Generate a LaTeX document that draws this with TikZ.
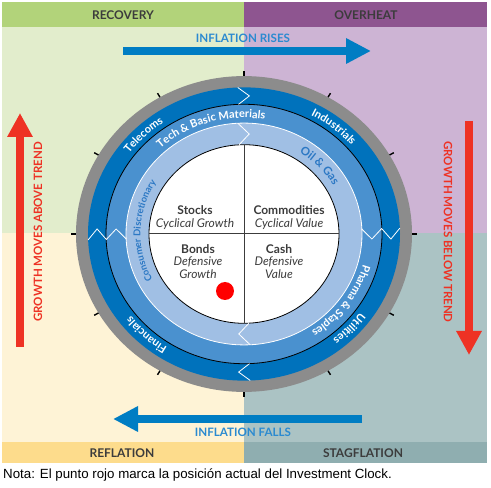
\documentclass[tikz,border=0pt]{standalone}
\usepackage{fontspec}
\setmainfont{Lato}
\newfontfamily\notefont{Liberation Sans}
\usetikzlibrary{positioning,calc,arrows.meta,decorations.text}
\definecolor{bandgreen}{RGB}{178,211,122}
\definecolor{lightgreen}{RGB}{226,237,204}
\definecolor{bandpurple}{RGB}{142,85,144}
\definecolor{lightpurple}{RGB}{205,180,212}
\definecolor{bandyellow}{RGB}{253,220,140}
\definecolor{lightyellow}{RGB}{254,243,214}
\definecolor{bandteal}{RGB}{143,174,176}
\definecolor{lightteal}{RGB}{171,195,196}
\definecolor{ringgray}{RGB}{140,140,140}
\definecolor{darkring}{RGB}{0,114,188}
\definecolor{midring}{RGB}{74,145,207}
\definecolor{lightring}{RGB}{160,191,228}
\definecolor{arrowblue}{RGB}{0,125,195}
\definecolor{textblue}{RGB}{43,138,208}
\definecolor{ringtext}{RGB}{44,120,196}
\definecolor{growthred}{RGB}{238,50,36}
\definecolor{labelgray}{RGB}{60,60,60}

\newcommand{\ringlabel}[6]{%
  \pgfmathsetmacro\ry{0.94*#1}%
  \path[decorate,decoration={text along path,text align=center,text color=#5,
    text={|\bfseries\fontsize{#6}{#6}\selectfont|#4}}]
    (#2:#1 and \ry) arc[start angle=#2,end angle=#3,x radius=#1,y radius=\ry];}

\tikzset{
  band/.style={font=\bfseries\fontsize{12}{12}\selectfont, text=labelgray},
  flowlabel/.style={font=\bfseries\fontsize{11.6}{11.6}\selectfont, text=textblue},
  growthlabel/.style={font=\bfseries\fontsize{11.5}{11.5}\selectfont, text=growthred},
  bluearrow/.style={draw=arrowblue, line width=8pt, -{Triangle[length=25pt,width=24pt]}},
  redarrow/.style={draw=growthred, line width=8pt, -{Triangle[length=24pt,width=24pt]}},
  asset/.style={align=center, font=\fontsize{12}{12.5}\selectfont, text=labelgray, inner sep=0pt},
  chev/.style={draw=white, line width=0.8pt},
  tick/.style={draw=black, line width=1.4pt}
}

\begin{document}
\begin{tikzpicture}[x=1pt,y=1pt]
\useasboundingbox (0,0) rectangle (491,488);
\fill[white] (0,0) rectangle (491,488);

\fill[lightgreen] (2,255) rectangle (244,461);
\fill[lightpurple] (244,255) rectangle (487,461);
\fill[lightyellow] (2,46) rectangle (244,255);
\fill[lightteal] (244,46) rectangle (487,255);
\fill[bandgreen] (2,461) rectangle (244,486);
\fill[bandpurple] (244,461) rectangle (487,486);
\fill[bandyellow] (2,25) rectangle (244,46);
\fill[bandteal] (244,25) rectangle (487,46);

\node[band] (recovery) at (123,473) {RECOVERY};
\node[band] (overheat) at (366,473) {OVERHEAT};
\node[band] (reflation) at (122,35) {REFLATION};
\node[band] (stagflation) at (363,35) {STAGFLATION};

\node[flowlabel] (rises) at (243,450) {INFLATION RISES};
\coordinate (risefrom) at (123,437);
\coordinate (riseto) at (371,437);
\draw[bluearrow] (risefrom) -- (riseto);

\node[flowlabel] (falls) at (243,56) {INFLATION FALLS};
\coordinate (fallfrom) at (362,69);
\coordinate (fallto) at (113,69);
\draw[bluearrow] (fallfrom) -- (fallto);

\coordinate (abovefrom) at (20,141);
\coordinate (aboveto) at (20,375);
\draw[redarrow] (abovefrom) -- (aboveto);
\node[growthlabel, rotate=90] (above) at (38,256) {GROWTH MOVES ABOVE TREND};

\coordinate (belowfrom) at (469,367);
\coordinate (belowto) at (469,133);
\draw[redarrow] (belowfrom) -- (belowto);
\node[growthlabel, rotate=-90] (below) at (448,256) {GROWTH MOVES BELOW TREND};

\begin{scope}[shift={(244,254)}, yscale=0.94]
  \foreach \a in {0,30,...,330}
    \draw[tick] (\a:167) -- (\a:173);
  \fill[ringgray] (0,0) circle (168);
  \fill[darkring] (0,0) circle (156);
  \fill[midring] (0,0) circle (138);
  \draw[black, line width=0.8pt] (0,0) circle (138);
  \fill[lightring] (0,0) circle (118);
  \draw[white, line width=0.8pt] (0,0) circle (118);
  \fill[white] (0,0) circle (95);
  \draw[black, line width=0.8pt] (0,0) circle (95);
  \draw[labelgray, line width=0.8pt] (0,95) -- (0,-95);
  \draw[labelgray, line width=0.8pt] (-95,1) -- (95,1);
  \foreach \a in {90,0,270,180}
    \draw[chev] (\a+2.3:156) -- (\a-2.1:147) -- (\a+2.3:138);
  \foreach \a in {0,180}
    \draw[chev] (\a+2.5:138) -- (\a-2.4:128) -- (\a+2.5:118);
  \foreach \a in {90,270}
    \draw[chev] (\a+3:118) -- (\a-2.8:106.5) -- (\a+3:95);
\end{scope}

\begin{scope}[shift={(244,254)}]
  \ringlabel{143}{175}{94}{Telecoms}{white}{11}
  \ringlabel{143}{91}{11}{Industrials}{white}{11}
  \ringlabel{143}{-3}{-83}{Utilities}{white}{11}
  \ringlabel{143}{267}{187}{Financials}{white}{11}
  \ringlabel{123.5}{170}{44}{Tech {\&} Basic Materials}{white}{11}
  \ringlabel{123.5}{25}{-95}{Pharma {\&} Staples}{white}{11}
  \ringlabel{103.5}{230}{126}{Consumer Discretionary}{ringtext}{9.5}
  \ringlabel{103}{83}{3}{Oil {\&} Gas}{ringtext}{11.5}
\end{scope}

\node[asset] (stocks) at (195,270.5) {\textbf{Stocks}\\\textit{Cyclical Growth}};
\node[asset] (commodities) at (289,270.5) {\textbf{Commodities}\\\textit{Cyclical Value}};
\node[asset] (bonds) at (198,226.5) {\textbf{Bonds}\\\textit{Defensive}\\\textit{Growth}};
\node[asset] (cash) at (279,226.5) {\textbf{Cash}\\\textit{Defensive}\\\textit{Value}};
\fill[red] (225,197) circle (9);

\node[anchor=west, font=\notefont\fontsize{13.3}{14}\selectfont, inner sep=0pt] (note) at (3,13)
  {Nota: El punto rojo marca la posición actual del Investment Clock.};
\end{tikzpicture}
\end{document}
